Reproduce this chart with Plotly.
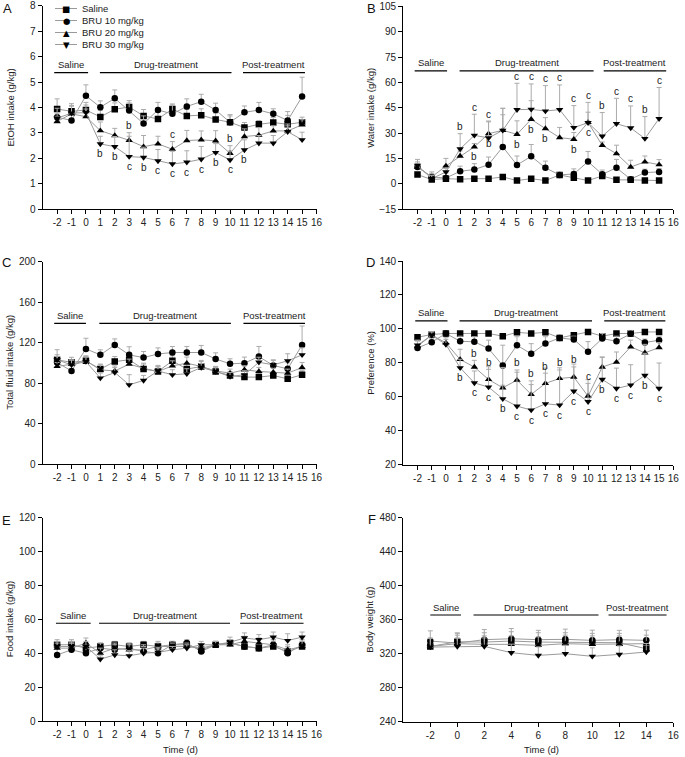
import plotly.graph_objects as go

W, H = 685, 757
FONT = "Liberation Sans, Arial, sans-serif"

# ---------------- data ----------------
days = list(range(-2, 16))
days_bw = list(range(-2, 15, 2))

group_names = ["Saline", "BRU 10 mg/kg", "BRU 20 mg/kg", "BRU 30 mg/kg"]
group_symbols = ["square", "circle", "triangle-up", "triangle-down"]
group_glyphs = ["■", "●", "▲", "▼"]

x_ticks = list(range(-2, 17))
x_ticks_bw = list(range(-2, 17, 2))

# A: EtOH intake (g/kg)
etoh_saline = [3.94, 3.85, 3.90, 3.63, 3.93, 4.02, 3.67, 3.55, 3.94, 3.67, 3.70, 3.53, 3.42, 3.21, 3.34, 3.41, 3.34, 3.42]
etoh_bru10 = [3.62, 3.49, 4.46, 4.01, 4.36, 3.88, 3.37, 3.90, 3.75, 4.04, 4.23, 3.90, 3.42, 3.81, 3.90, 3.75, 3.49, 4.43]
etoh_bru20 = [3.45, 3.75, 3.64, 3.09, 2.90, 2.71, 2.46, 2.57, 2.36, 2.70, 2.73, 2.69, 2.20, 2.86, 2.91, 3.08, 3.08, 3.32]
etoh_bru30 = [3.58, 3.78, 3.80, 2.57, 2.46, 2.07, 2.04, 1.90, 1.78, 1.85, 1.97, 2.23, 1.94, 2.33, 2.60, 2.60, 3.05, 2.73]
etoh_saline_err = [0.40, 0.30, 0.30, 0.25, 0.25, 0.25, 0.25, 0.30, 0.20, 0.25, 0.25, 0.25, 0.25, 0.20, 0.15, 0.20, 0.35, 0.20]
etoh_bru10_err = [0.35, 0.30, 0.43, 0.25, 0.33, 0.30, 0.30, 0.30, 0.35, 0.30, 0.29, 0.27, 0.30, 0.25, 0.30, 0.20, 0.35, 0.76]
etoh_bru20_err = [0.20, 0.30, 0.30, 0.34, 0.28, 0.30, 0.44, 0.30, 0.30, 0.40, 0.35, 0.40, 0.30, 0.30, 0.30, 0.20, 0.20, 0.20]
etoh_bru30_err = [0.20, 0.30, 0.30, 0.30, 0.40, 0.80, 0.40, 0.45, 0.50, 0.45, 0.50, 0.35, 0.35, 0.40, 0.30, 0.30, 0.30, 0.30]
etoh_sig_bru20 = ["", "", "", "", "", "b", "", "", "c", "", "", "", "b", "", "", "", "", ""]
etoh_sig_bru30 = ["", "", "", "b", "b", "c", "b", "c", "c", "c", "c", "b", "c", "b", "", "", "", ""]

# B: Water intake (g/kg)
water_saline = [5.5, 2.6, 3.1, 2.8, 3.1, 3.1, 4.1, 2.0, 3.1, 2.0, 5.3, 3.7, 2.0, 4.7, 2.4, 2.4, 2.0, 2.0]
water_bru10 = [10.0, 4.1, 3.5, 7.5, 8.5, 11.4, 21.9, 11.2, 16.3, 9.5, 5.3, 5.9, 13.2, 5.7, 9.5, 2.8, 6.7, 7.1]
water_bru20 = [10.0, 4.1, 10.6, 16.5, 21.9, 29.7, 31.7, 29.3, 38.2, 32.7, 27.4, 26.4, 36.4, 22.8, 17.9, 10.0, 13.0, 11.4]
water_bru30 = [11.0, 3.1, 7.1, 20.7, 28.7, 27.2, 31.7, 43.9, 44.1, 43.1, 43.9, 33.3, 36.2, 28.2, 35.6, 33.1, 26.8, 38.6]
water_saline_err = [1.0, 1.0, 1.0, 0.8, 0.8, 0.8, 1.0, 0.8, 1.0, 0.8, 1.0, 1.0, 0.8, 1.5, 0.8, 0.8, 0.8, 0.8]
water_bru10_err = [4.5, 3.0, 3.0, 3.0, 3.5, 4.5, 19.0, 5.3, 7.0, 4.0, 1.5, 3.0, 6.0, 2.5, 5.0, 1.5, 2.0, 2.0]
water_bru20_err = [2.0, 2.0, 4.5, 3.0, 2.0, 7.0, 13.0, 8.0, 11.0, 6.5, 6.0, 4.0, 6.0, 2.0, 5.0, 4.0, 3.5, 3.0]
water_bru30_err = [2.0, 2.0, 2.0, 9.0, 12.5, 10.0, 13.0, 15.6, 15.0, 15.0, 14.6, 13.0, 12.0, 14.0, 15.0, 13.0, 13.0, 18.4]
water_sig_bru20 = ["", "", "", "", "b", "b", "", "b", "b", "b", "", "b", "c", "", "", "", "", ""]
water_sig_bru30 = ["", "", "", "b", "c", "c", "", "c", "c", "c", "c", "c", "c", "b", "c", "c", "b", "c"]

# C: Total fluid intake (g/kg)
fluid_saline = [103.0, 100.5, 102.0, 93.8, 101.3, 103.0, 93.8, 91.5, 102.0, 93.8, 96.4, 91.5, 87.5, 85.9, 85.9, 87.5, 84.2, 88.2]
fluid_bru10 = [100.3, 92.0, 113.8, 107.9, 117.7, 107.9, 105.2, 108.8, 110.2, 110.2, 110.2, 103.9, 99.0, 99.7, 106.2, 97.4, 94.1, 117.7]
fluid_bru20 = [96.4, 98.7, 102.0, 93.1, 92.0, 98.7, 94.7, 91.5, 97.0, 99.7, 96.4, 92.0, 89.8, 93.1, 91.5, 90.8, 89.8, 95.4]
fluid_bru30 = [103.0, 98.0, 101.3, 84.9, 90.5, 78.3, 82.6, 92.0, 88.2, 89.2, 95.4, 91.5, 86.5, 88.2, 100.6, 98.0, 102.0, 107.9]
fluid_saline_err = [10, 5, 5, 5, 5, 5, 5, 5, 5, 5, 5, 5, 4, 3, 4, 3, 4, 4]
fluid_bru10_err = [6, 5, 10.5, 5, 6, 8, 6, 6, 6, 6, 7, 6, 5, 6, 10, 5, 6, 18.7]
fluid_bru20_err = [4, 4, 4, 5, 5, 5, 5, 6, 5, 6, 6, 4, 4, 4, 4, 4, 4, 5]
fluid_bru30_err = [5, 5, 5, 5, 5, 10, 5, 4, 5, 5, 4, 4, 4, 4, 5, 5, 7, 7]

# D: Preference (%)
pref_saline = [95.1, 96.7, 97.3, 97.3, 97.3, 97.3, 95.7, 98.0, 97.3, 98.0, 94.7, 96.3, 98.2, 95.7, 97.3, 97.3, 98.2, 98.2]
pref_bru10 = [88.8, 92.2, 97.3, 92.7, 92.4, 88.4, 78.4, 90.4, 85.3, 91.4, 94.7, 93.7, 86.5, 94.3, 92.7, 97.1, 92.0, 93.3]
pref_bru20 = [89.8, 96.3, 91.8, 82.0, 77.5, 70.2, 65.3, 69.8, 61.4, 67.9, 70.8, 71.6, 60.4, 77.5, 80.4, 89.4, 85.9, 89.0]
pref_bru30 = [90.4, 96.3, 90.8, 77.1, 68.2, 65.7, 58.8, 54.5, 52.2, 55.9, 55.1, 63.3, 57.1, 70.2, 64.9, 66.9, 72.6, 64.9]
pref_saline_err = [1, 1, 1, 1, 1, 1, 1, 1, 1, 1, 1, 1, 1, 1, 1, 1, 1, 1]
pref_bru10_err = [2, 2, 1, 3, 3, 5, 12, 5, 6, 4, 2, 2, 6, 3, 3, 2, 2, 2]
pref_bru20_err = [3, 2, 3, 6, 4, 6, 12, 6, 8, 6, 5, 6, 7.5, 6, 6, 4, 5, 3]
pref_bru30_err = [3, 2, 3, 5, 7, 12, 8, 20, 15, 21, 22, 16, 13, 13, 12, 12, 13, 15]
pref_sig_bru20 = ["", "", "", "", "b", "b", "", "b", "b", "b", "b", "b", "c", "", "", "", "", ""]
pref_sig_bru30 = ["", "", "", "b", "c", "c", "b", "c", "c", "c", "c", "c", "c", "b", "c", "c", "b", "c"]

# E: Food intake (g/kg)
food_saline = [45, 45, 43, 44, 45, 44, 45, 44, 45, 45, 42, 45, 46, 44, 43, 44, 41, 44]
food_bru10 = [39, 42, 40, 43, 42, 43, 41, 40, 45, 46, 41, 45, 46, 44, 43, 45, 40, 45]
food_bru20 = [43, 43, 46, 40, 43, 42, 42, 44, 44, 44, 43, 45, 45, 47, 46, 45, 42, 44]
food_bru30 = [44, 44, 44, 36.5, 39, 38.5, 40, 40.5, 42, 43, 45, 45, 46.5, 49, 48, 49.5, 47.5, 49.5]
food_saline_err = [3, 3, 3, 2, 2, 2, 2, 2, 2, 2, 2, 2, 2, 3, 3, 3, 3, 3]
food_bru10_err = [4, 4, 4, 3, 3, 3, 3, 3, 2, 2, 2, 2, 2, 3, 3, 3, 3, 3]
food_bru20_err = [3, 3, 3, 3, 3, 3, 3, 3, 2, 2, 2, 2, 3, 3, 3, 3, 3, 3]
food_bru30_err = [3, 3, 3, 2, 3, 3, 3, 3, 2, 2, 2, 2, 3, 3, 3, 3, 4, 3]

# F: Body weight (g)
bw_saline = [328.6, 334.0, 333.7, 334.9, 333.7, 333.7, 332.9, 332.9, 325.9]
bw_bru10 = [334.9, 332.5, 336.5, 337.6, 336.5, 336.9, 335.7, 336.5, 335.7]
bw_bru20 = [328.6, 331.8, 331.0, 331.0, 329.8, 331.8, 331.0, 331.0, 331.8]
bw_bru30 = [327.8, 328.6, 328.6, 321.2, 318.0, 320.0, 316.9, 319.2, 322.0]
bw_saline_err = [8, 10, 11, 11, 11, 11, 11, 11, 11]
bw_bru10_err = [12, 12, 12, 12, 11, 12, 12, 11, 12]
bw_bru20_err = [10, 10, 10, 10, 10, 10, 10, 10, 10]
bw_bru30_err = [10, 10, 10, 10, 10, 10, 10, 10, 10]

phase_names = ["Saline", "Drug-treatment", "Post-treatment"]

# ---------------- layout helpers ----------------
def px_x(p):
    return p / W

def px_y(p):
    return 1 - p / H

LEFT_X = [px_x(42.7), px_x(316.5)]
RIGHT_X = [px_x(403.3), px_x(673.3)]

panels = [
    dict(letter="A", x=days, xr=[-3, 16], xt=x_ticks, xdom=LEFT_X, ydom=[px_y(209.3), px_y(5.7)],
         yr=[0, 8], dtick=1, title="EtOH intake (g/kg)",
         series=[etoh_saline, etoh_bru10, etoh_bru20, etoh_bru30],
         errs=[etoh_saline_err, etoh_bru10_err, etoh_bru20_err, etoh_bru30_err],
         sig=[(2, etoh_sig_bru20, "above"), (3, etoh_sig_bru30, "below")],
         phases=[(-2.2, 0.15), (0.97, 10.1), (10.9, 15.2)], phase_y=5.37, lx=px_x(7), ly=px_y(8), tx=px_x(10), xlabel=False),
    dict(letter="B", x=days, xr=[-3, 16], xt=x_ticks, xdom=RIGHT_X, ydom=[px_y(209.3), px_y(6.3)],
         yr=[-15, 105], dtick=15, title="Water intake (g/kg)",
         series=[water_saline, water_bru10, water_bru20, water_bru30],
         errs=[water_saline_err, water_bru10_err, water_bru20_err, water_bru30_err],
         sig=[(2, water_sig_bru20, "below"), (3, water_sig_bru30, "above")],
         phases=[(-2.2, 0.08), (0.96, 10.39), (11.1, 15.5)], phase_y=66.8, lx=px_x(371), ly=px_y(8), tx=px_x(371), xlabel=False),
    dict(letter="C", x=days, xr=[-3, 16], xt=x_ticks, xdom=LEFT_X, ydom=[px_y(464), px_y(261.7)],
         yr=[0, 200], dtick=40, title="Total fluid intake (g/kg)",
         series=[fluid_saline, fluid_bru10, fluid_bru20, fluid_bru30],
         errs=[fluid_saline_err, fluid_bru10_err, fluid_bru20_err, fluid_bru30_err],
         sig=[],
         phases=[(-2.2, 0.0), (0.93, 10.06), (10.93, 15.2)], phase_y=139.1, lx=px_x(6), ly=px_y(262), tx=px_x(10), xlabel=False),
    dict(letter="D", x=days, xr=[-3, 16], xt=x_ticks, xdom=RIGHT_X, ydom=[px_y(464.7), px_y(261)],
         yr=[20, 140], dtick=20, title="Preference (%)",
         series=[pref_saline, pref_bru10, pref_bru20, pref_bru30],
         errs=[pref_saline_err, pref_bru10_err, pref_bru20_err, pref_bru30_err],
         sig=[(2, pref_sig_bru20, "above"), (3, pref_sig_bru30, "below")],
         phases=[(-2.16, 0.11), (0.96, 10.28), (11.14, 15.44)], phase_y=104.7, lx=px_x(370), ly=px_y(262), tx=px_x(371), xlabel=False),
    dict(letter="E", x=days, xr=[-3, 16], xt=x_ticks, xdom=LEFT_X, ydom=[px_y(721), px_y(517.7)],
         yr=[0, 120], dtick=20, title="Food intake (g/kg)",
         series=[food_saline, food_bru10, food_bru20, food_bru30],
         errs=[food_saline_err, food_bru10_err, food_bru20_err, food_bru30_err],
         sig=[],
         phases=[(-2.08, 0.33), (0.91, 10.0), (10.7, 15.1)], phase_y=57.7, lx=px_x(6), ly=px_y(520), tx=px_x(9), xlabel=True, xlx=px_x(180)),
    dict(letter="F", x=days_bw, xr=[-4, 16], xt=x_ticks_bw, xdom=RIGHT_X, ydom=[px_y(721.7), px_y(517.7)],
         yr=[240, 480], dtick=40, title="Body weight (g)",
         series=[bw_saline, bw_bru10, bw_bru20, bw_bru30],
         errs=[bw_saline_err, bw_bru10_err, bw_bru20_err, bw_bru30_err],
         sig=[],
         phases=[(-2.0, 0.27), (1.2, 10.46), (11.2, 15.5)], phase_y=365.5, lx=px_x(372), ly=px_y(519), tx=px_x(370), xlabel=True, xlx=px_x(541.7)),
]

fig = go.Figure()
annotations = []
shapes = []
layout_axes = {}

tick_font = dict(family=FONT, size=10, color="#222")
text_font = dict(family=FONT, size=9.5, color="#222")
sig_font = dict(family=FONT, size=10, color="#222")

for i, p in enumerate(panels):
    n = i + 1
    xa = "x" if n == 1 else f"x{n}"
    ya = "y" if n == 1 else f"y{n}"
    xkey = "xaxis" if n == 1 else f"xaxis{n}"
    ykey = "yaxis" if n == 1 else f"yaxis{n}"
    layout_axes[xkey] = dict(domain=p["xdom"], range=p["xr"], tickmode="array", tickvals=p["xt"],
                             ticktext=[str(v) for v in p["xt"]], ticks="outside", ticklen=4, tickwidth=1.2,
                             tickcolor="black", showline=True, linecolor="black", linewidth=1.2,
                             showgrid=False, zeroline=False, anchor=ya, tickfont=tick_font, automargin=False)
    layout_axes[ykey] = dict(domain=p["ydom"], range=p["yr"], tick0=p["yr"][0], dtick=p["dtick"],
                             ticks="outside", ticklen=4, tickwidth=1.2, tickcolor="black", showline=True,
                             linecolor="black", linewidth=1.2, showgrid=False, zeroline=False, anchor=xa,
                             tickfont=tick_font, automargin=False)
    for g in range(4):
        fig.add_trace(go.Scatter(
            x=p["x"], y=p["series"][g], mode="lines+markers", name=group_names[g], showlegend=False,
            line=dict(color="#9a9a9a", width=1),
            marker=dict(symbol=group_symbols[g], size=6.5, color="black"),
            error_y=dict(type="data", array=p["errs"][g], arrayminus=[0] * len(p["x"]), symmetric=False,
                         color="#ababab", thickness=1, width=2.5),
            xaxis=xa, yaxis=ya))
    # significance letters
    for g, letters, where in p["sig"]:
        for xv, yv, ev, t in zip(p["x"], p["series"][g], p["errs"][g], letters):
            if not t:
                continue
            if where == "above":
                annotations.append(dict(x=xv, y=yv + ev, xref=xa, yref=ya, text=t, showarrow=False,
                                        yanchor="middle", yshift=7, font=sig_font))
            else:
                annotations.append(dict(x=xv, y=yv, xref=xa, yref=ya, text=t, showarrow=False,
                                        yanchor="middle", yshift=-10, font=sig_font))
    # treatment phase bars
    for name, (x0, x1) in zip(phase_names, p["phases"]):
        shapes.append(dict(type="line", xref=xa, yref=ya, x0=x0, x1=x1, y0=p["phase_y"], y1=p["phase_y"],
                           line=dict(color="black", width=1.2)))
        annotations.append(dict(x=(x0 + x1) / 2, y=p["phase_y"], xref=xa, yref=ya, text=name, showarrow=False,
                                yanchor="middle", yshift=8, font=text_font))
    # panel letter
    annotations.append(dict(x=p["lx"], y=p["ly"], xref="paper", yref="paper", text=p["letter"], showarrow=False,
                            xanchor="center", yanchor="middle", font=dict(family=FONT, size=13, color="#111")))
    # y title
    annotations.append(dict(x=p["tx"], y=(p["ydom"][0] + p["ydom"][1]) / 2, xref="paper", yref="paper",
                            text=p["title"], textangle=-90, showarrow=False, xanchor="center", yanchor="middle",
                            font=text_font))
    if p["xlabel"]:
        annotations.append(dict(x=p["xlx"], y=px_y(749), xref="paper", yref="paper", text="Time (d)",
                                showarrow=False, xanchor="center", yanchor="middle", font=text_font))

# legend (panel A, top-left)
legend_rows = [8.5, 20.5, 32.5, 44.5]
for g, row in enumerate(legend_rows):
    shapes.append(dict(type="line", xref="paper", yref="paper", x0=px_x(55), x1=px_x(77),
                       y0=px_y(row), y1=px_y(row), line=dict(color="#9a9a9a", width=1)))
    annotations.append(dict(x=px_x(66), y=px_y(row), xref="paper", yref="paper", text=group_glyphs[g],
                            showarrow=False, xanchor="center", yanchor="middle",
                            font=dict(family="DejaVu Sans", size=8.5, color="black")))
    annotations.append(dict(x=px_x(80), y=px_y(row), xref="paper", yref="paper", text=group_names[g],
                            showarrow=False, xanchor="left", yanchor="middle", font=text_font))

fig.update_layout(
    width=W, height=H, margin=dict(l=0, r=0, t=0, b=0, autoexpand=False),
    paper_bgcolor="white", plot_bgcolor="white", showlegend=False,
    annotations=annotations, shapes=shapes, **layout_axes)

fig.write_html("out.html", config={"displayModeBar": False},
               post_script="document.body.style.margin='0px';document.body.style.padding='0px';")
